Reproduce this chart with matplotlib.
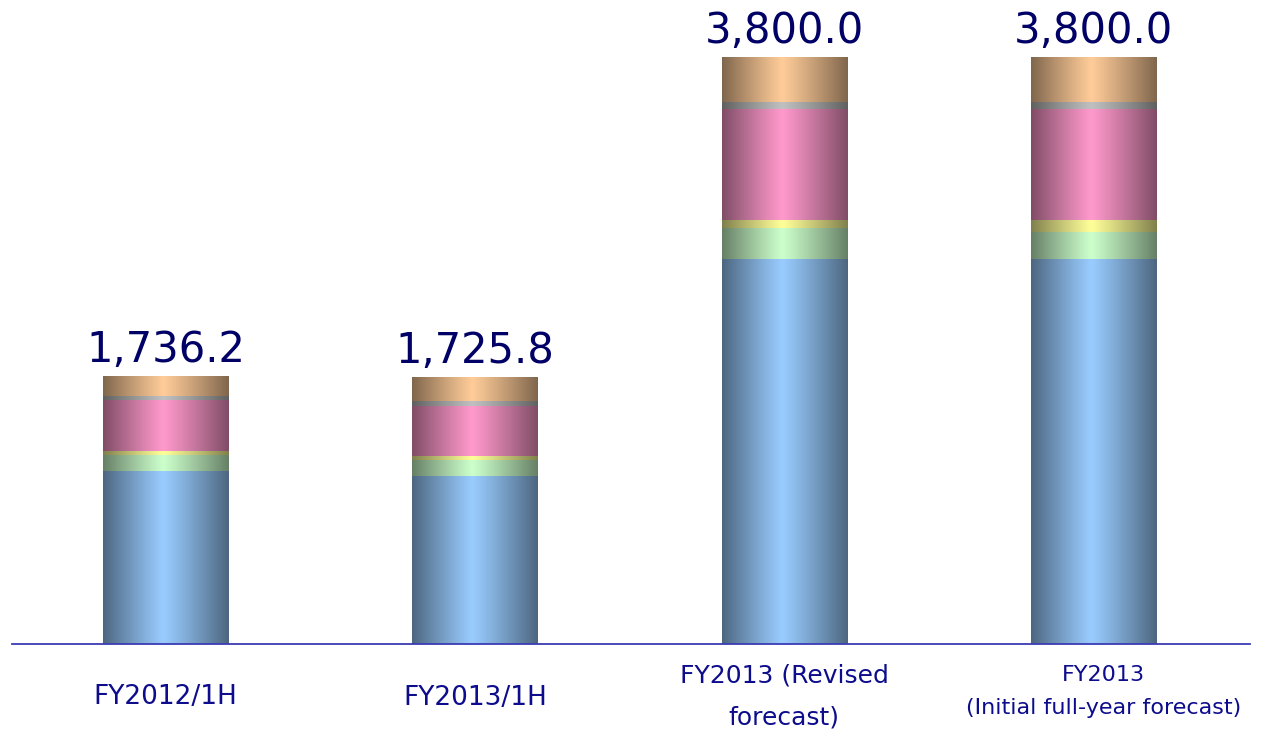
import numpy as np
import matplotlib
matplotlib.use("Agg")
import matplotlib.pyplot as plt
from matplotlib.colors import to_rgb

# ---- data -------------------------------------------------------------
categories = ["FY2012/1H", "FY2013/1H", "FY2013 (Revised\nforecast)",
              "FY2013\n(Initial full-year forecast)"]
totals = [1736.2, 1725.8, 3800.0, 3800.0]

seg_blue = [1120.0, 1085.0, 2492.0, 2492.0]
seg_green = [104.0, 104.0, 203.0, 175.0]
seg_yellow = [26.0, 26.0, 50.0, 78.0]
seg_pink = [331.0, 328.0, 719.0, 719.0]
seg_gray = [24.0, 28.0, 45.0, 45.0]
seg_peach = [131.2, 154.8, 291.0, 291.0]

segments = [seg_blue, seg_green, seg_yellow, seg_pink, seg_gray, seg_peach]
seg_colors = ["#99CCFF", "#CCFFCC", "#FFFF99", "#FF99CC", "#C0C0C0", "#FFCC99"]

# ---- figure -----------------------------------------------------------
W, H = 1268, 731
fig = plt.figure(figsize=(W / 100, H / 100), dpi=100)
ax = fig.add_axes([12 / W, 87 / H, 1238 / W, 644 / H])

x = np.arange(len(categories))
bar_w = 0.406

# cylinder-like horizontal shading profile: dark edges, bright centre
t = np.linspace(0, 1, 256)
peak = 0.48
dist = np.where(t < peak, (peak - t) / peak, (t - peak) / (1 - peak))
shade = 1.0 - 0.5 * dist ** 1.1

bottom = np.zeros(len(categories))
for vals, col in zip(segments, seg_colors):
    vals = np.asarray(vals)
    bars = ax.bar(x, vals, bar_w, bottom=bottom, color="none",
                  edgecolor="none", zorder=2)
    rgb = np.array(to_rgb(col))
    img = (shade[:, None] * rgb[None, :])[None, :, :]
    for patch in bars:
        x0, y0 = patch.get_x(), patch.get_y()
        im = ax.imshow(img, extent=[x0, x0 + patch.get_width(),
                                    y0, y0 + patch.get_height()],
                       aspect="auto", interpolation="bilinear", zorder=2)
        im.set_clip_path(patch)
    bottom += vals

# total labels above each bar
for xi, tot in zip(x, totals):
    ax.annotate(f"{tot:,.1f}", xy=(xi, tot), xytext=(0, 14),
                textcoords="offset pixels", ha="center", va="baseline",
                fontsize=30, color="#000066", family="DejaVu Sans")

# category labels below the baseline, one text per line
label_sizes = [19, 19, 18, 16]
label_lines_offsets = [[-60], [-61], [-39, -81], [-37, -70]]
label_dx = [0, 0, 0, 10]
for xi, lab, fs, offs, dx in zip(x, categories, label_sizes,
                                 label_lines_offsets, label_dx):
    for line, dy in zip(lab.split("\n"), offs):
        ax.annotate(line, xy=(xi, 0), xytext=(dx, dy),
                    textcoords="offset pixels", ha="center", va="baseline",
                    fontsize=fs, color="#0C0C8C", family="DejaVu Sans",
                    annotation_clip=False)

ax.axhline(0, color="#3C3CB4", lw=1.3, zorder=3, clip_on=False)

ax.set_xlim(-0.497, -0.497 + 1238 / 309.3)
ax.set_ylim(0, 644 * 3800 / 587)
ax.axis("off")

fig.savefig("out.png", dpi=100)
